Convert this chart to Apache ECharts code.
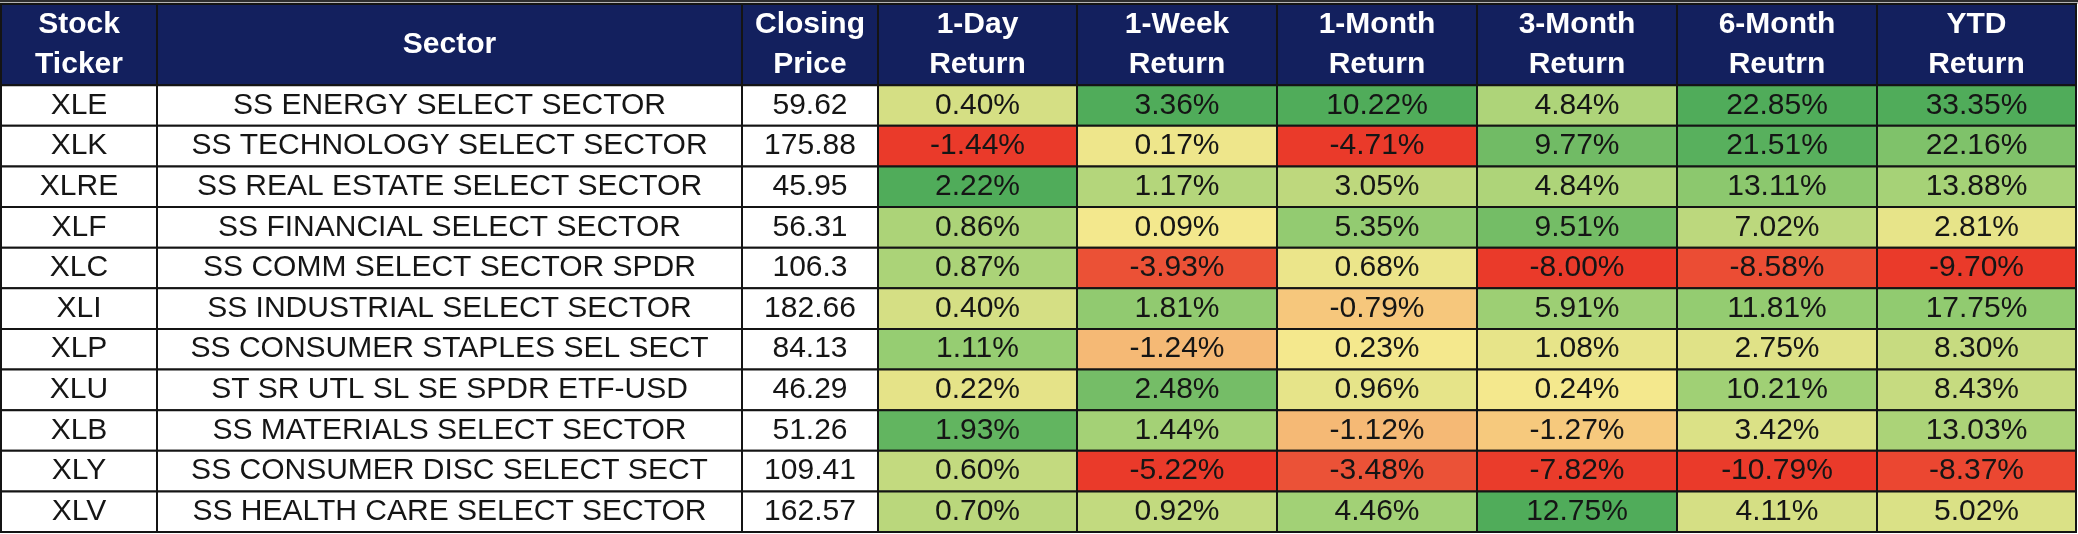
<!DOCTYPE html>
<html>
<head>
<meta charset="utf-8">
<script src="https://cdn.jsdelivr.net/npm/echarts@6/dist/echarts.min.js"></script>
<style>
  html, body { margin: 0; padding: 0; background: #fff; }
  #chart { width: 2078px; height: 534px; }
</style>
</head>
<body>
<div id="chart"></div>
<script>
const headers = [
  "Stock\nTicker", "Sector", "Closing\nPrice", "1-Day\nReturn", "1-Week\nReturn",
  "1-Month\nReturn", "3-Month\nReturn", "6-Month\nReutrn", "YTD\nReturn",
];
const tickers = ["XLE", "XLK", "XLRE", "XLF", "XLC", "XLI", "XLP", "XLU", "XLB", "XLY", "XLV"];
const sectors = [
  "SS ENERGY SELECT SECTOR",
  "SS TECHNOLOGY SELECT SECTOR",
  "SS REAL ESTATE SELECT SECTOR",
  "SS FINANCIAL SELECT SECTOR",
  "SS COMM SELECT SECTOR SPDR",
  "SS INDUSTRIAL SELECT SECTOR",
  "SS CONSUMER STAPLES SEL SECT",
  "ST SR UTL SL SE SPDR ETF-USD",
  "SS MATERIALS SELECT SECTOR",
  "SS CONSUMER DISC SELECT SECT",
  "SS HEALTH CARE SELECT SECTOR",
];
const closingPrice = [59.62, 175.88, 45.95, 56.31, 106.3, 182.66, 84.13, 46.29, 51.26, 109.41, 162.57];
const return1Day = [0.40, -1.44, 2.22, 0.86, 0.87, 0.40, 1.11, 0.22, 1.93, 0.60, 0.70];
const return1Week = [3.36, 0.17, 1.17, 0.09, -3.93, 1.81, -1.24, 2.48, 1.44, -5.22, 0.92];
const return1Month = [10.22, -4.71, 3.05, 5.35, 0.68, -0.79, 0.23, 0.96, -1.12, -3.48, 4.46];
const return3Month = [4.84, 9.77, 4.84, 9.51, -8.00, 5.91, 1.08, 0.24, -1.27, -7.82, 12.75];
const return6Month = [22.85, 21.51, 13.11, 7.02, -8.58, 11.81, 2.75, 10.21, 3.42, -10.79, 4.11];
const returnYTD = [33.35, 22.16, 13.88, 2.81, -9.70, 17.75, 8.30, 8.43, 13.03, -8.37, 5.02];

// layout: column widths in pixels
const colWidths = [156, 585, 136, 199, 200, 200, 200, 200, 199];
const colStart = [];
colWidths.reduce((acc, w, i) => { colStart[i] = acc; return acc + w; }, 0);
const totalWidth = colWidths.reduce((a, b) => a + b, 0);

const NAVY = "#13205e";
// colour stops from yellow (0) out to the extreme of each side (1)
const greenStops = [
  [0, [248, 233, 142]],
  [0.5, [150, 205, 114]],
  [1, [80, 172, 90]],
];
const redStops = [
  [0, [248, 233, 142]],
  [0.3, [244, 172, 110]],
  [0.6, [236, 95, 62]],
  [1, [234, 58, 42]],
];

function fromStops(stops, t) {
  for (let i = 1; i < stops.length; i++) {
    const [t1, c1] = stops[i];
    const [t0, c0] = stops[i - 1];
    if (t <= t1 || i === stops.length - 1) {
      const f = Math.min(1, Math.max(0, (t - t0) / (t1 - t0)));
      const c = c0.map((v, k) => Math.round(v + (c1[k] - v) * f));
      return `rgb(${c[0]},${c[1]},${c[2]})`;
    }
  }
}

// three colour scale, yellow at zero, like the spreadsheet's conditional format
function scaleColor(v, values) {
  const lo = Math.min(...values);
  const hi = Math.max(...values);
  if (v >= 0) return fromStops(greenStops, hi > 0 ? v / hi : 0);
  return fromStops(redStops, lo < 0 ? v / lo : 0);
}

const returnCols = [return1Day, return1Week, return1Month, return3Month, return6Month, returnYTD];

const cells = [];
headers.forEach((h, c) => cells.push({ col: c, row: 0, text: h, fill: NAVY, header: true }));
tickers.forEach((t, r) => {
  cells.push({ col: 0, row: r + 1, text: t, fill: "#fff" });
  cells.push({ col: 1, row: r + 1, text: sectors[r], fill: "#fff" });
  cells.push({ col: 2, row: r + 1, text: String(closingPrice[r]), fill: "#fff" });
  returnCols.forEach((vals, k) => {
    cells.push({
      col: 3 + k,
      row: r + 1,
      text: vals[r].toFixed(2) + "%",
      fill: scaleColor(vals[r], vals),
    });
  });
});

function renderCell(params, api) {
  const cell = cells[params.dataIndex];
  const x0 = colStart[cell.col];
  const x1 = x0 + colWidths[cell.col];
  const y0 = cell.row === 0 ? 0 : cell.row + 1;
  const y1 = cell.row === 0 ? 2 : cell.row + 2;
  const p0 = api.coord([x0, y0]);
  const p1 = api.coord([x1, y1]);
  return {
    type: "rect",
    shape: { x: p0[0], y: p0[1], width: p1[0] - p0[0], height: p1[1] - p0[1] },
    style: { fill: cell.fill, stroke: "#141414", lineWidth: 2 },
    textContent: {
      style: {
        text: cell.text,
        fill: cell.header ? "#fff" : "#151515",
        fontFamily: '"Liberation Sans", Arial, sans-serif',
        fontSize: 30,
        fontWeight: cell.header ? "bold" : "normal",
        lineHeight: 40,
        align: "center",
        verticalAlign: "middle",
      },
    },
    textConfig: { position: "inside" },
  };
}

const chart = echarts.init(document.getElementById("chart"), null, { renderer: "canvas" });
chart.setOption({
  animation: false,
  backgroundColor: "#fff",
  grid: { left: 1, right: 2078 - 1 - totalWidth, top: 4, bottom: 2 },
  xAxis: { type: "value", min: 0, max: totalWidth, show: false },
  yAxis: { type: "value", min: 0, max: 13, inverse: true, show: false },
  graphic: [
    { type: "rect", shape: { x: 0, y: 0, width: 2078, height: 2 }, style: { fill: "#2e2e2e" } },
    { type: "rect", shape: { x: 0, y: 2, width: 2078, height: 2 }, style: { fill: "#b5b5b5" } },
  ],
  series: [
    {
      type: "custom",
      renderItem: renderCell,
      data: cells.map(c => [c.col, c.row]),
      encode: { x: 0, y: 1 },
      silent: true,
    },
  ],
});
</script>
</body>
</html>
